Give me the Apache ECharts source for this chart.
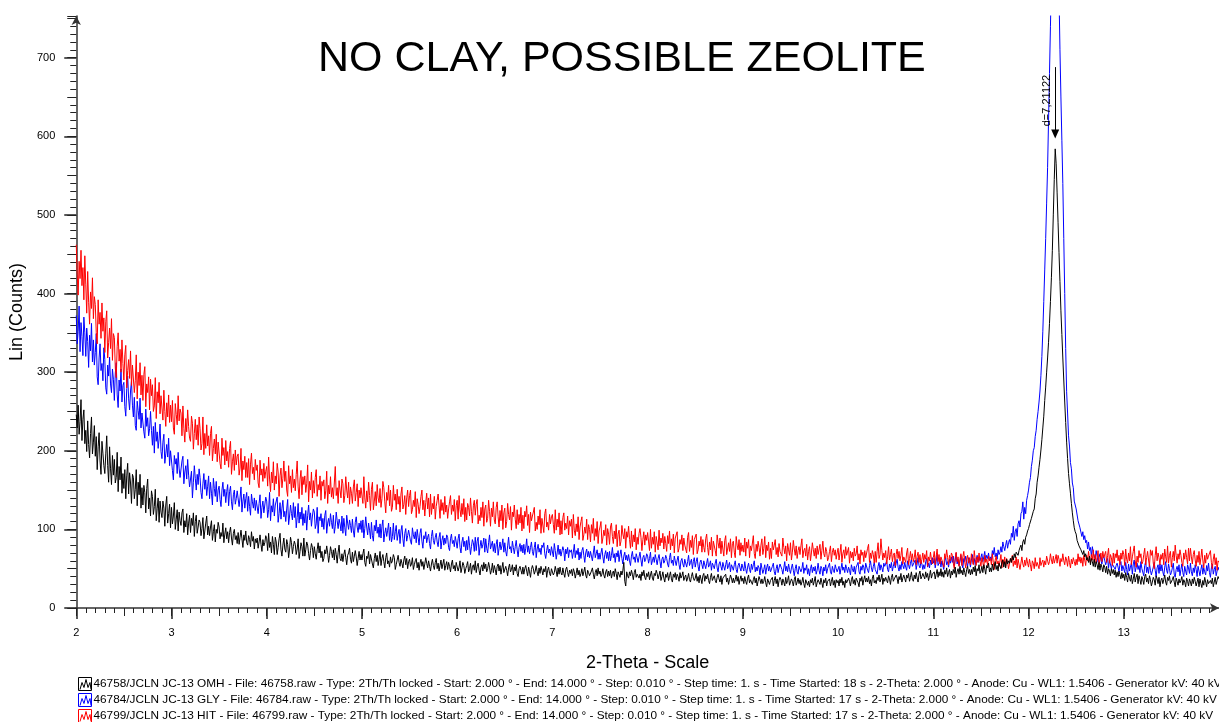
<!DOCTYPE html>
<html>
<head>
<meta charset="utf-8">
<script src="https://cdn.jsdelivr.net/npm/echarts@6/dist/echarts.min.js"></script>
<style>
html,body{margin:0;padding:0;background:#fff;}
#chart{width:1219px;height:722px;}
</style>
</head>
<body>
<div id="chart"></div>
<script>
// 2-theta scan: start 2.00 deg, one value every 0.01 deg up to 14.00 deg (as in the scan header)
const X_START = 2;
const X_STEP = 0.01;

const titleText = 'NO CLAY, POSSIBLE ZEOLITE';
const xAxisName = '2-Theta - Scale';
const yAxisName = 'Lin (Counts)';
const peakLabel = 'd=7,21122';
const peakPos = 12.28;
const peakArrowTop = 688;
const peakArrowBottom = 603;

const seriesNames = [
  '46758/JCLN JC-13 OMH - File: 46758.raw - Type: 2Th/Th locked - Start: 2.000 ° - End: 14.000 ° - Step: 0.010 ° - Step time: 1. s - Time Started: 18 s - 2-Theta: 2.000 ° - Anode: Cu - WL1: 1.5406 - Generator kV: 40 kV',
  '46784/JCLN JC-13 GLY - File: 46784.raw - Type: 2Th/Th locked - Start: 2.000 ° - End: 14.000 ° - Step: 0.010 ° - Step time: 1. s - Time Started: 17 s - 2-Theta: 2.000 ° - Anode: Cu - WL1: 1.5406 - Generator kV: 40 kV',
  '46799/JCLN JC-13 HIT - File: 46799.raw - Type: 2Th/Th locked - Start: 2.000 ° - End: 14.000 ° - Step: 0.010 ° - Step time: 1. s - Time Started: 17 s - 2-Theta: 2.000 ° - Anode: Cu - WL1: 1.5406 - Generator kV: 40 kV'
];
const seriesColors = ['#000000', '#0000ff', '#ff0000'];

const omh = [
246,229,258,221,237,265,213,240,252,209, 226,199,238,208,191,222,243,196,211,232, 193,218,176,205,223,187,170,212,197,181, 171,196,219,181,160,205,177,157,194,169, 189,159,166,198,148,180,163,192,146,171,
152,176,139,168,184,145,172,159,133,170, 166,139,151,176,130,160,144,170,127,153, 131,156,147,121,152,164,126,140,117,149, 142,119,129,151,111,127,140,109,136,122, 115,136,127,104,131,142,108,120,132,102,
128,107,117,134,100,113,125,98,122,111, 105,121,126,96,111,103,120,93,108,118, 96,114,105,121,91,110,118,95,103,112, 109,92,101,115,88,98,108,117,93,104, 92,103,111,86,97,106,84,100,95,109,
103,88,96,91,108,83,94,102,88,97, 83,96,103,89,80,95,100,87,92,82, 96,81,90,99,88,77,93,86,98,83, 80,92,87,78,97,85,91,75,88,83, 89,76,84,93,81,72,87,79,83,92,
88,73,95,77,84,70,91,81,68,90, 84,68,77,88,95,74,66,80,89,75, 71,87,81,64,75,90,83,69,78,85, 81,68,75,88,63,72,83,78,66,89, 66,74,84,80,69,61,73,82,77,64,
78,69,62,74,83,70,79,64,72,59, 63,74,69,79,70,58,67,78,72,64, 74,61,76,68,57,71,80,63,60,69, 59,68,74,64,55,67,70,76,62,57, 71,59,66,73,65,54,63,72,61,68,
61,69,75,58,53,66,63,72,56,68, 66,56,51,63,70,59,67,54,62,72, 54,63,68,59,51,64,70,56,60,52, 65,57,60,68,64,49,55,61,67,58, 53,62,57,51,61,66,55,63,50,59,
62,53,56,64,49,55,60,63,51,58, 48,57,62,53,59,49,56,64,57,51, 60,53,47,56,62,54,49,58,63,50, 57,47,54,61,50,56,62,48,54,59, 49,58,53,46,56,61,50,54,47,58,
57,47,52,60,45,51,58,54,44,50, 54,59,46,50,57,43,52,55,48,60, 45,53,57,48,42,52,55,47,58,50, 56,46,50,58,52,43,48,57,45,54, 49,42,53,56,47,54,43,51,58,45,
45,53,48,41,51,56,46,49,55,42, 52,47,55,44,40,50,53,48,43,52, 43,50,54,47,41,52,46,39,49,54, 50,43,47,54,46,41,51,44,53,48, 42,50,46,53,39,48,52,44,41,50,
49,42,45,53,47,40,51,43,52,45, 42,51,44,39,49,52,45,40,48,44, 49,41,50,46,38,44,51,42,48,40, 44,50,41,46,52,42,38,48,45,41, 40,47,51,43,37,45,49,41,51,43,
47,40,43,50,42,38,46,49,40,47, 41,48,38,44,47,40,50,44,36,46, 45,39,47,42,48,58,34,28,46,41, 38,46,41,48,43,36,45,49,39,43, 45,38,43,35,46,41,48,39,36,44,
40,46,36,42,47,38,35,44,41,48, 44,37,42,47,35,40,46,38,33,43, 39,45,35,41,46,37,33,43,39,45, 36,43,40,34,45,38,41,46,35,39, 42,34,38,44,36,33,40,45,38,35,
38,44,34,40,32,42,37,31,41,44, 34,41,37,43,35,31,39,44,35,38, 41,35,32,39,43,37,33,41,30,38, 36,40,43,33,38,30,36,42,38,32, 38,32,36,42,34,40,30,36,41,34,
38,31,40,34,30,38,42,32,36,33, 30,36,40,32,38,28,34,40,36,31, 37,31,34,40,32,27,37,39,30,35, 33,39,28,35,40,31,37,27,35,39, 36,29,37,33,28,39,31,35,41,29,
31,37,34,28,36,40,29,33,38,31, 36,29,33,39,31,26,36,38,29,34, 27,36,32,38,29,34,40,27,32,36, 35,30,38,32,26,36,32,38,28,34, 32,37,28,34,39,29,35,26,36,32,
35,28,37,32,39,29,34,26,36,32, 30,38,34,28,36,40,31,36,29,38, 36,32,27,38,34,40,29,36,41,33, 38,33,40,31,36,28,38,42,32,35, 31,39,35,42,33,37,43,30,38,34,
39,35,32,41,37,30,39,43,34,37, 35,42,38,31,40,36,44,33,38,42, 40,33,42,38,44,34,39,46,37,34, 42,37,45,38,33,43,47,37,40,44, 43,37,46,39,44,35,41,48,38,43,
42,46,37,43,49,39,46,41,50,40, 46,39,48,43,51,40,45,49,38,47, 42,49,44,52,39,46,50,43,53,44, 48,42,51,45,40,49,53,44,49,42, 49,43,52,46,54,41,50,47,55,44,
47,53,45,55,50,43,54,51,57,46, 51,46,56,48,53,59,49,54,47,57, 55,50,58,61,52,59,51,62,56,60, 57,63,58,66,61,69,64,71,73,67, 73,77,80,73,84,87,81,90,93,98,
101,106,107,114,115,123,126,139,145,160, 168,179,189,201,214,229,244,264,281,300, 318,338,362,390,420,455,500,545,584,565, 528,490,452,415,378,348,318,290,262,236, 211,190,171,158,146,133,121,111,102,97,
94,86,88,79,81,74,76,68,73,65, 69,61,64,58,66,55,63,59,53,62, 52,59,55,49,58,48,56,52,46,55, 52,45,53,43,50,47,41,50,44,49, 42,48,39,46,40,47,42,37,45,38,
43,35,45,39,33,44,38,34,42,31, 37,44,33,39,43,31,41,36,30,40, 36,30,40,43,33,38,31,41,36,28, 33,39,36,29,41,37,31,39,27,35, 38,31,36,42,33,29,39,35,41,31,
30,36,40,33,27,38,34,29,37,32, 35,40,29,36,33,27,38,34,28,37, 33,28,37,31,39,34,28,33,38,27, 37,31,26,35,29,39,33,27,36,31, 29,35,31,38,27,33,39,30,35,40,
37
];

const gly = [
372,336,352,384,326,363,345,321,370,350, 320,356,339,306,347,327,362,313,341,309, 325,349,294,284,318,336,302,311,289,331, 316,280,272,309,295,319,285,274,304,291, 264,299,312,271,255,290,276,304,262,283,
287,256,244,279,295,266,252,276,289,258, 243,268,232,226,263,251,240,267,229,248, 249,224,216,253,231,242,219,228,250,226, 207,231,197,236,212,224,203,215,234,199, 190,211,221,184,196,208,192,216,181,200,
199,175,163,194,183,190,171,198,178,166, 166,187,193,158,173,181,164,189,169,154, 154,174,140,160,181,165,150,170,157,177, 166,147,139,158,171,151,163,143,155,168, 139,160,146,131,165,152,142,161,135,150,
155,138,129,150,160,142,151,134,148,157, 130,148,155,135,125,144,150,132,139,149, 149,129,140,154,122,136,145,127,139,147, 123,142,129,118,145,135,127,140,124,137, 139,120,133,144,114,128,136,121,131,141,
136,115,125,147,111,130,122,139,117,131, 131,141,109,120,134,113,127,137,116,123, 110,126,138,106,117,131,120,112,134,115, 129,102,115,133,108,122,113,128,105,120, 108,124,99,118,131,112,121,104,117,126,
122,101,107,128,95,116,111,120,103,114, 100,118,124,95,108,114,104,120,109,101, 118,95,104,122,111,101,113,107,98,117, 95,114,102,92,118,108,100,112,105,96, 113,98,90,109,116,103,96,108,100,111,
96,112,89,101,116,103,93,108,99,88, 109,92,85,105,98,112,95,103,90,107, 89,104,112,84,95,102,91,99,108,86, 103,84,91,108,87,97,105,86,94,100, 82,98,105,88,78,95,101,85,92,99,
98,85,81,102,93,88,97,83,100,90, 80,95,101,85,76,92,88,97,83,90, 94,82,75,91,99,86,81,90,95,84, 78,90,96,75,86,92,80,89,82,93, 90,77,73,88,94,82,86,78,91,84,
76,88,94,77,70,84,90,78,85,73, 86,74,91,80,68,78,87,83,72,90, 73,85,90,67,78,86,76,81,89,71, 88,76,70,83,93,75,80,85,72,82, 70,81,87,67,76,84,74,79,88,71,
83,72,66,79,90,75,78,70,85,77, 69,78,86,74,65,77,82,72,80,70, 81,68,76,88,71,79,69,77,84,72, 67,77,84,64,75,81,71,76,68,80, 77,83,69,63,73,80,70,75,67,78,
77,65,82,73,62,70,80,68,75,66, 68,78,73,60,75,69,77,64,74,71, 74,63,71,81,64,73,68,76,61,71, 63,73,77,67,58,70,75,65,72,64, 72,66,60,70,79,64,69,74,62,70,
62,70,76,65,57,68,73,63,71,60, 72,60,67,77,64,69,58,70,65,73, 59,68,74,63,56,66,71,61,67,60, 68,60,54,66,72,62,65,58,69,64, 58,65,71,61,53,64,67,59,62,69,
66,57,63,71,55,60,65,58,68,62, 55,63,68,59,51,62,65,57,60,67, 63,56,52,64,70,57,61,54,66,60, 54,61,66,55,49,60,63,56,52,62, 61,52,59,67,54,58,62,50,59,64,
52,59,64,53,47,58,61,55,50,60, 59,50,57,63,52,55,60,48,57,54, 50,57,62,51,46,56,59,53,48,58, 57,48,55,61,50,54,58,46,55,52, 48,55,60,49,45,54,57,51,47,56,
54,47,59,50,44,52,57,49,45,56, 49,55,60,46,52,47,54,51,42,57, 57,44,49,55,43,51,56,47,53,46, 47,53,57,46,42,50,55,45,51,56, 54,49,43,51,59,47,53,46,56,49,
44,51,56,48,41,50,55,46,43,53, 53,46,50,58,44,51,48,55,43,50, 41,50,55,45,52,47,53,43,48,57, 48,43,53,50,41,52,47,55,44,50, 52,57,46,43,53,48,45,55,50,46,
47,53,43,50,57,48,52,45,55,50, 45,52,48,42,55,50,46,53,43,52, 50,58,46,43,53,48,55,52,44,57, 56,48,45,54,60,51,46,53,58,49, 50,43,53,58,48,55,51,46,57,53,
54,60,49,46,56,51,58,47,53,59, 51,57,62,52,47,55,49,59,54,50, 58,52,48,60,55,50,57,62,53,51, 53,61,49,56,64,54,51,59,56,49, 55,50,59,63,52,57,51,61,55,64,
57,63,51,59,68,54,57,63,52,60, 54,49,60,64,55,59,52,62,57,65, 58,66,53,61,70,56,62,54,59,67, 56,51,63,59,66,57,53,64,60,52, 61,68,56,63,55,61,67,58,65,60,
60,69,59,65,72,61,67,63,70,60, 65,60,73,68,77,65,70,62,74,68, 71,78,71,84,78,73,80,86,76,83, 87,81,95,90,104,86,97,101,91,107, 111,103,120,123,135,113,128,120,137,143,
150,160,166,180,188,200,204,218,226,240, 250,262,276,296,320,352,390,430,470,515, 560,620,680,740,800,850,900,930,950,940, 900,840,780,710,650,595,540,470,400,330, 275,248,219,206,185,177,159,153,136,137,
126,124,111,113,102,104,91,97,87,92, 83,86,75,84,73,77,66,78,70,72, 62,73,66,58,64,69,61,56,63,66, 65,55,60,63,51,61,62,50,56,58, 58,49,54,57,52,46,56,59,47,54,
55,45,58,49,42,56,47,52,57,43, 56,61,46,44,57,49,54,45,59,50, 51,41,54,59,45,52,44,56,48,42, 43,52,58,48,40,51,55,44,56,47, 55,46,41,52,59,48,44,56,50,42,
45,51,57,43,39,49,53,46,55,41, 49,56,45,40,53,47,42,55,51,44, 57,46,41,51,45,55,49,40,53,47, 41,49,55,43,51,46,42,54,47,57, 45,39,51,56,43,49,53,41,47,52,
48
];

const hit = [
462,424,398,441,419,455,410,433,392,448, 411,375,428,389,361,402,381,420,368,396, 386,350,336,392,361,376,343,388,352,369, 325,364,378,318,338,356,330,368,315,349, 344,305,293,333,350,314,329,300,341,311,
290,322,334,280,302,316,292,327,283,309, 307,274,289,322,266,300,283,312,271,296, 264,297,307,256,285,274,294,252,291,270, 284,250,257,293,241,275,261,287,247,270, 268,239,277,250,231,261,243,271,236,258,
237,264,229,221,260,246,233,270,238,253, 248,219,257,228,211,241,224,252,231,216, 212,244,235,202,222,240,214,233,207,243, 228,201,209,243,195,222,203,233,206,219, 194,222,231,187,203,215,196,221,186,211,
211,184,177,216,194,204,182,213,187,199, 179,203,212,170,186,196,175,201,182,193, 196,169,178,203,162,187,176,193,166,185, 166,190,157,183,197,171,179,163,189,175, 182,159,153,188,169,177,161,184,165,174,
180,155,192,164,148,173,159,186,150,168, 158,184,173,142,168,178,153,165,187,161, 174,150,142,181,158,168,147,176,153,164, 149,170,187,154,139,164,175,144,167,157, 168,147,158,182,135,161,150,173,140,162,
146,166,176,142,157,150,168,137,161,155, 163,139,149,174,133,156,145,167,141,153, 139,159,180,143,153,133,162,150,140,164, 158,134,143,167,150,140,160,132,154,146, 133,154,163,136,147,158,129,150,140,153,
154,133,167,140,127,149,135,160,143,124, 151,160,125,136,148,130,157,140,134,152, 128,139,161,153,135,121,147,137,156,130, 150,123,128,156,137,145,125,151,132,142, 122,145,154,126,132,143,119,140,150,129,
143,150,120,125,137,129,148,115,139,132, 120,129,142,150,125,137,117,134,146,126, 140,116,145,119,133,126,142,113,129,137, 145,130,114,138,124,134,119,142,122,131, 114,126,135,143,119,131,123,138,111,130,
137,113,143,125,116,133,119,139,110,128, 112,133,128,117,140,123,108,130,137,118, 132,138,107,118,111,128,115,135,104,126, 131,109,114,137,123,104,127,116,135,112, 107,128,135,116,103,124,111,131,100,121,
127,102,110,133,119,112,129,99,122,116, 131,113,101,125,106,119,108,128,98,118, 101,123,116,130,105,119,96,122,111,117, 122,128,98,109,100,117,106,125,95,114, 114,96,120,126,103,109,99,119,107,116,
119,106,95,125,99,113,103,121,93,111, 94,115,121,99,108,101,117,93,111,104, 113,89,119,99,92,107,97,116,87,103, 110,116,86,93,103,95,113,87,106,100, 84,106,95,114,86,101,91,110,82,98,
103,110,82,89,99,92,106,80,101,94, 81,103,108,91,82,98,88,106,78,94, 99,79,85,105,94,88,101,76,97,90, 104,87,76,98,78,93,84,101,74,90, 81,95,101,90,73,87,97,80,93,86,
96,84,73,100,76,90,81,97,71,91, 93,74,99,79,89,83,95,75,91,82, 72,92,82,98,74,88,79,94,70,89, 91,97,71,76,87,81,93,73,89,80, 80,70,90,96,72,86,77,92,68,87,
89,94,69,74,85,79,91,71,87,77, 71,88,94,77,67,84,74,90,66,85, 87,73,66,93,83,76,89,69,85,75, 66,86,92,68,75,83,72,88,64,82, 85,71,64,91,80,74,87,67,83,72,
80,71,89,66,84,76,87,64,79,73, 75,92,69,63,81,72,85,77,66,80, 88,68,76,91,64,80,73,84,62,76, 63,84,74,80,87,68,77,65,82,72, 73,66,89,77,69,79,60,82,74,67,
83,61,71,86,75,67,79,63,73,78, 68,79,88,64,73,76,66,81,61,72, 78,60,70,83,74,66,76,63,79,68, 66,81,62,73,85,69,65,77,72,60, 64,72,79,59,71,76,67,74,62,70,
76,61,70,81,58,69,74,63,78,67, 68,77,57,72,64,71,60,76,66,69, 79,61,69,56,74,67,71,59,73,64, 66,76,81,58,70,63,73,68,57,72, 58,72,83,63,68,88,73,61,70,64,
73,56,65,78,61,68,75,59,67,70, 54,68,75,63,72,60,67,77,56,65, 67,58,70,76,55,63,72,61,69,59, 64,74,55,66,71,58,68,56,62,70, 58,68,62,73,53,65,60,71,62,56,
64,72,55,66,75,59,68,56,65,61, 59,52,69,63,74,64,55,67,60,70, 67,57,50,64,71,59,65,53,62,69, 54,65,72,59,51,62,67,57,64,55, 69,61,55,73,62,54,65,58,70,60,
53,64,59,50,67,58,62,54,66,60, 63,55,69,58,49,61,66,56,60,53, 60,68,51,62,56,65,53,63,58,50, 51,63,58,67,53,60,55,65,51,62, 63,49,57,65,56,52,61,54,64,57,
52,62,55,47,60,57,50,64,53,58, 57,50,64,54,58,61,52,60,55,66, 65,55,59,69,61,56,66,57,62,68, 57,67,62,53,63,59,69,60,55,65, 61,53,66,58,51,62,56,64,59,54,
62,55,69,59,65,57,64,53,67,61, 54,67,60,72,63,57,68,61,74,58, 68,57,64,73,55,62,70,59,72,64, 63,72,58,67,76,57,68,64,54,70, 57,69,64,74,60,67,55,70,62,73,
68,54,75,62,57,70,60,78,55,65, 72,79,60,52,66,58,73,64,69,56, 59,68,76,55,64,72,61,53,74,67, 73,57,50,67,78,60,70,64,55,68, 62,70,55,75,65,58,79,57,67,72,
52,64,72,60,80,67,57,69,62,74, 67,58,53,70,62,74,64,56,76,60, 76,65,56,68,73,61,53,67,58,72, 55,64,75,61,51,67,57,70,62,66, 65,73,58,50,62,69,55,64,48,60,
58
];

const FONT = 'Liberation Sans, Arial, Helvetica, sans-serif';

function toPairs(arr) {
  return arr.map((v, i) => [Math.round((X_START + i * X_STEP) * 100) / 100, v]);
}

const chart = echarts.init(document.getElementById('chart'), null, {renderer: 'canvas'});

const Y_MAX = 753;
const X_MIN = 2, X_MAX = 14;

function xTickAxis(interval, len) {
  return {
    type: 'value', min: X_MIN, max: X_MAX, interval: interval, position: 'bottom',
    axisLine: {show: false}, axisLabel: {show: false}, splitLine: {show: false},
    axisTick: {show: true, inside: false, length: len, lineStyle: {color: '#222', width: 1}}
  };
}
function yTickAxis(interval, len) {
  return {
    type: 'value', min: 0, max: Y_MAX, interval: interval, position: 'left',
    axisLine: {show: false}, axisLabel: {show: false}, splitLine: {show: false},
    axisTick: {show: true, inside: false, length: len, lineStyle: {color: '#222', width: 1}}
  };
}

const legendIcon = 'path://M0,0L13,0L13,13L0,13Z M1.5,12L3.5,5L5.5,10L7.5,2L9.5,10L11.5,5L12.5,12';
const legendTops = [677, 693, 709];

const option = {
  animation: false,
  backgroundColor: '#ffffff',
  title: {
    text: titleText, left: 318, top: 38, padding: 0,
    textStyle: {fontFamily: FONT, fontSize: 43, fontWeight: 'normal', color: '#000'}
  },
  legend: seriesNames.map((n, i) => ({
    orient: 'horizontal', left: 78, top: legendTops[i], itemWidth: 13, itemHeight: 13,
    padding: 0, selectedMode: false, icon: legendIcon,
    textStyle: {fontFamily: FONT, fontSize: 11.8, color: '#000', padding: [0, 0, 0, -3]},
    data: [{name: n, itemStyle: {color: 'rgba(0,0,0,0)', borderColor: seriesColors[i], borderWidth: 1}}]
  })),
  grid: {left: 76, right: -2, top: 16, bottom: 114, containLabel: false},
  xAxis: [
    {
      type: 'value', min: X_MIN, max: X_MAX, interval: 1, position: 'bottom',
      name: xAxisName, nameLocation: 'middle', nameGap: 46,
      nameTextStyle: {fontFamily: FONT, fontSize: 18, color: '#000'},
      axisLine: {show: true, symbol: ['none', 'arrow'], symbolSize: [7, 9], lineStyle: {color: '#333', width: 1.5}},
      axisTick: {show: true, inside: false, length: 11, lineStyle: {color: '#222', width: 1.5}},
      axisLabel: {show: true, margin: 19, fontFamily: FONT, fontSize: 11, color: '#000', showMaxLabel: false},
      splitLine: {show: false}
    },
    xTickAxis(0.5, 8),
    xTickAxis(0.1, 5)
  ],
  yAxis: [
    {
      type: 'value', min: 0, max: Y_MAX, interval: 100, position: 'left',
      name: yAxisName, nameLocation: 'middle', nameGap: 39,
      nameTextStyle: {fontFamily: FONT, fontSize: 18, color: '#000'},
      axisLine: {show: true, symbol: ['none', 'arrow'], symbolSize: [7, 9], lineStyle: {color: '#333', width: 1.5}},
      axisTick: {show: true, inside: false, length: 12, lineStyle: {color: '#222', width: 1.5}},
      axisLabel: {show: true, margin: 21, fontFamily: FONT, fontSize: 11, color: '#000', showMaxLabel: false},
      splitLine: {show: false}
    },
    yTickAxis(50, 9),
    yTickAxis(10, 6)
  ],
  series: [
    {
      name: seriesNames[1], type: 'line', data: toPairs(gly), showSymbol: false, symbol: 'none',
      lineStyle: {color: seriesColors[1], width: 1}, itemStyle: {color: seriesColors[1]}, clip: true, z: 2
    },
    {
      name: seriesNames[2], type: 'line', data: toPairs(hit), showSymbol: false, symbol: 'none',
      lineStyle: {color: seriesColors[2], width: 1}, itemStyle: {color: seriesColors[2]}, clip: true, z: 3
    },
    {
      name: seriesNames[0], type: 'line', data: toPairs(omh), showSymbol: false, symbol: 'none',
      lineStyle: {color: seriesColors[0], width: 1}, itemStyle: {color: seriesColors[0]}, clip: true, z: 4,
      markLine: {
        silent: true, animation: false, symbol: ['triangle', 'none'], symbolSize: [8, 9],
        lineStyle: {color: '#000', width: 1, type: 'solid'},
        label: {show: true, formatter: peakLabel, position: 'insideMiddleTop', distance: 3,
          fontFamily: FONT, fontSize: 11, color: '#000'},
        data: [[{coord: [peakPos, peakArrowBottom]}, {coord: [peakPos, peakArrowTop]}]]
      }
    }
  ]
};

chart.setOption(option);
</script>
</body>
</html>
